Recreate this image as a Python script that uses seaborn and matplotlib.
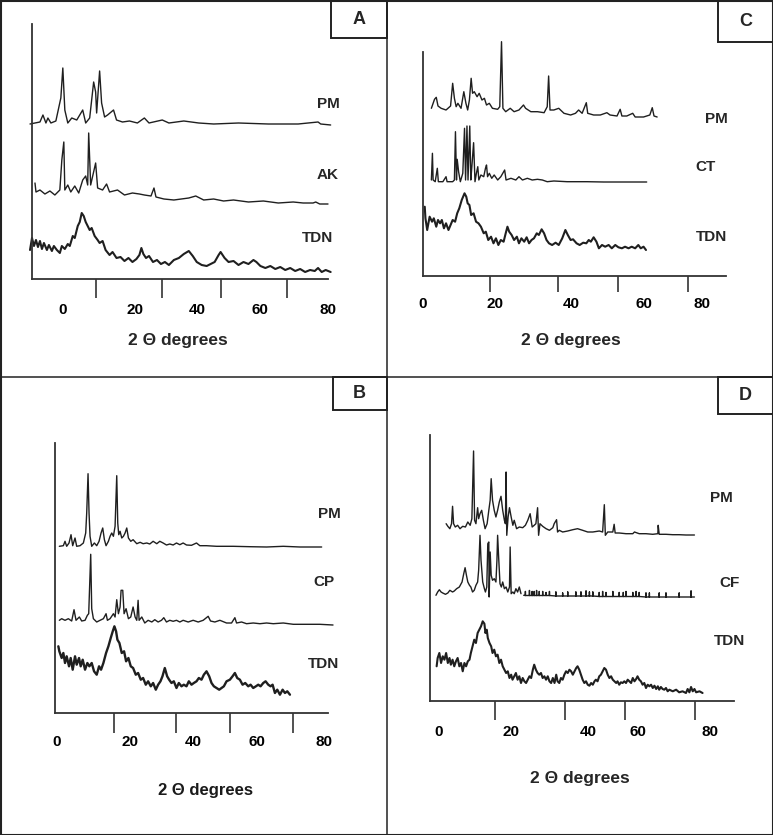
import matplotlib
matplotlib.use("Agg")
import matplotlib.pyplot as plt
from matplotlib.patches import Rectangle
from matplotlib.lines import Line2D
import pandas as pd
import seaborn as sns

sns.set_style("white")
plt.rcParams['font.family'] = ['Liberation Sans', 'DejaVu Sans']

# ------------------------------------------------------------------ data
tick_labels = ['0', '20', '40', '60', '80']
xlabel_text = '2 \u0398 degrees'

# ---- Panel A : PM / AK / TDN
a_names = ['PM', 'AK', 'TDN']
a_pm_x = [-9.9, -6.9, -6.0, -5.1, -4.5, -3.6, -2.1, -0.6, 0.0, 0.6, 1.5, 2.7, 4.2, 6.0, 6.9, 8.1, 9.3, 9.9, 10.2, 11.1,
          11.7, 12.6, 13.5, 15.3, 16.2, 18.0, 20.1, 22.5, 24.6, 26.0, 30.0, 32.0, 36.5, 41.0, 45.5, 53.0, 62.0, 71.0, 77.0, 77.8, 80.8]
a_pm_y = [0, 2, 9, 1, 6, 1, 3, 26, 56, 14, 1, 6, 4, 14, 1, 6, 42, 32, 11, 53,
          21, 7, 9, 14, 4, 2, 3, 1, 6, 1, 4, 1, 3, 1, 0, 1, 0, 0, 2, 0, -1]
a_ak_x = [-8.4, -8.1, -6.9, -5.4, -3.9, -2.4, -0.9, -0.3, 0.3, 0.6, 1.5, 2.4, 3.6, 4.8, 6.0, 6.9, 7.5, 7.8, 8.4, 9.9,
          10.5, 12.0, 13.2, 14.1, 16.5, 18.6, 21.0, 23.1, 24.6, 26.6, 27.5, 28.1, 30.5, 33.5, 38.0, 40.1, 42.5, 45.5, 48.5, 51.5,
          56.0, 60.5, 65.0, 69.5, 72.5, 75.5, 76.3, 77.5, 80.0]
a_ak_y = [10, 1, 3, -1, 2, -2, 3, 33, 51, 3, 8, 1, 7, 0, 13, 17, 8, 60, 8, 30,
          5, 3, 9, 1, 3, -2, 0, -1, -2, -3, 5, -4, -6, -7, -5, -3, -7, -6, -8, -7,
          -9, -8, -10, -9, -10, -10, -9, -11, -11]
a_tdn_x = [-9.9, -9.3, -8.7, -8.1, -7.5, -6.9, -6.3, -5.7, -4.8, -4.2,
           -3.3, -2.7, -1.8, -0.9, -0.3, 0.6, 1.5, 2.1, 3.0, 3.6,
           4.5, 5.1, 5.7, 6.3, 6.9, 7.5, 8.1, 8.7, 9.6, 10.5,
           11.1, 12.0, 12.9, 14.1, 15.0, 16.2, 17.4, 18.6, 19.8, 21.0,
           22.2, 23.1, 23.7, 24.3, 25.1, 26.0, 27.2, 28.4, 29.6, 30.8,
           32.0, 33.5, 35.0, 36.5, 38.0, 39.2, 40.4, 41.9, 43.4, 44.6,
           45.8, 47.0, 47.6, 48.8, 50.0, 51.5, 53.0, 54.5, 56.0, 57.5,
           58.4, 59.6, 61.1, 62.6, 64.1, 65.6, 67.1, 68.6, 70.1, 71.6,
           73.1, 74.6, 76.0, 77.0, 78.1, 79.3, 80.8]
a_tdn_y = [22, 34, 26, 32, 25, 31, 23, 29, 22, 27,
           21, 26, 22, 19, 26, 23, 28, 26, 36, 34,
           46, 50, 59, 56, 50, 46, 42, 44, 36, 32,
           29, 31, 22, 17, 20, 14, 15, 11, 14, 10,
           13, 17, 24, 18, 14, 16, 10, 12, 8, 10,
           7, 12, 14, 18, 21, 16, 10, 7, 6, 8,
           10, 17, 20, 14, 10, 11, 7, 10, 8, 12,
           10, 6, 4, 6, 3, 5, 2, 4, 1, 3,
           0, 2, 1, 4, 0, 2, 0]
a_offsets = [155, 86, 7]

# ---- Panel C : PM / CT / TDN
c_names = ['PM', 'CT', 'TDN']
c_pm_x = [2.4, 3.3, 3.8, 4.3, 5.2, 6.6, 7.9, 8.5, 9.0, 9.5,
          10.0, 10.9, 11.7, 12.3, 12.8, 13.3, 13.8, 14.2, 14.7, 15.5,
          16.1, 16.9, 17.6, 18.2, 19.0, 19.9, 21.4, 22.0, 22.5, 22.9,
          23.7, 25.0, 26.1, 27.5, 28.8, 29.4, 30.9, 32.8, 34.7, 35.6,
          36.0, 36.4, 37.5, 38.9, 40.4, 42.3, 43.7, 44.6, 45.6, 46.8,
          47.2, 48.9, 50.8, 52.7, 53.6, 55.6, 56.5, 57.0, 58.4, 60.1,
          60.8, 63.2, 65.0, 65.7, 66.2, 67.1]
c_pm_y = [8.7, 17.7, 19.7, 11, 8.7, 7, 11, 33.7, 18.7, 10.3,
          13.7, 8.7, 25.3, 13.7, 7, 17, 38.7, 23.7, 25.3, 20.3,
          23.7, 17, 18.7, 12, 13.7, 8.7, 7.7, 10.3, 75.3, 8.7,
          5.3, 8.7, 5.3, 7, 12, 8.7, 5.3, 5.3, 4.3, 10.3,
          41, 7, 7, 8.7, 3.7, 2, 3.7, 7, 3.7, 14.3,
          3.7, 2, 2, 4.3, 2, 1, 7.7, 1, 1, 3.7,
          0, 0, 2, 9.3, 1, 0]
c_ct_x = [2.4, 2.7, 2.9, 3.5, 4.1, 4.4, 5.7, 6.6, 6.9, 8.5,
          9.0, 9.3, 9.6, 9.8, 10.2, 10.7, 11.4, 11.9, 12.2, 12.6,
          12.9, 13.4, 13.7, 14.0, 14.5, 14.9, 15.3, 15.7, 16.0, 16.6,
          17.4, 17.9, 18.2, 18.5, 19.0, 19.7, 20.4, 21.4, 22.3, 23.4,
          23.8, 25.2, 26.6, 27.5, 28.5, 29.9, 31.3, 32.8, 34.2, 35.6,
          37.5, 41.3, 47.0, 51.8, 56.5, 64.1]
c_ct_y = [2, 28.7, 2, 0.3, 13.7, 0.3, 0.3, 5.3, 0.3, 0.3,
          2, 50.3, 2, 22.7, 10.3, 0.3, 8.7, 53.7, 2, 56,
          2, 56, 2, 15.3, 39.3, 0.3, 8.7, 15.3, 2, 7,
          5.3, 13.7, 17, 5.3, 8.7, 3.7, 7, 2, 5.3, 12,
          2, 3.7, 2, 5.3, 2, 3.7, 2, 2.7, 2, 0.3,
          1, 0.3, 0.3, 0, 0, 0]
c_tdn_x = [0.5, 0.7, 1.2, 1.9, 2.6, 3.1, 3.8, 4.3, 4.9, 5.4,
           6.0, 6.6, 7.3, 7.9, 8.5, 9.2, 9.8, 10.4, 11.1, 11.9,
           12.4, 12.8, 13.3, 13.8, 14.5, 15.2, 15.9, 16.6, 17.4, 18.0,
           18.7, 19.5, 20.2, 20.9, 21.6, 22.3, 23.1, 23.7, 24.2, 24.7,
           25.4, 26.1, 26.9, 27.5, 28.2, 29.0, 29.7, 30.4, 31.1, 31.8,
           32.6, 33.2, 34.0, 34.7, 35.4, 36.1, 37.0, 38.0, 38.9, 39.9,
           40.8, 41.5, 42.3, 43.0, 44.0, 44.9, 45.9, 46.8, 47.5, 48.1,
           48.9, 49.7, 50.4, 51.3, 52.2, 53.2, 54.1, 55.1, 56.0, 57.0,
           57.9, 58.9, 59.8, 60.8, 61.7, 62.4, 63.2, 63.9]
c_tdn_y = [43.3, 31.7, 20, 33.3, 28.3, 31.7, 23.3, 30, 26.7, 30,
           21.7, 26.7, 20, 25, 30, 28.3, 36.7, 41.7, 50, 56.7,
           53.3, 46.7, 45, 35, 36.7, 28.3, 26.7, 23.3, 16.7, 18.3,
           10, 13.3, 6.7, 11.7, 5, 10, 8.3, 16.7, 23.3, 18.3,
           15, 10, 13.3, 6.7, 11.7, 8.3, 12.7, 6.7, 10, 11.7,
           16.7, 15, 20.7, 16.7, 10, 6.7, 5, 7.3, 5, 11.7,
           20, 15, 10, 10.7, 6.7, 5, 7.3, 6.7, 10, 8.3,
           12.7, 8.3, 1.7, 5, 3.3, 5, 1.7, 5, 2.7, 1.7,
           3.3, 1.7, 3.3, 1.7, 5, 1.7, 3.3, 0]
c_offsets = [159, 94, 26]

# ---- Panel B : PM / CP / TDN
b_names = ['PM', 'CP', 'TDN']
b_pm_x = [0.7, 1.9, 2.4, 2.9, 3.6, 4.2, 4.7, 5.4, 5.9, 6.9,
          7.9, 8.6, 8.9, 9.3, 9.6, 9.9, 10.4, 11.2, 11.9, 12.6,
          13.2, 13.7, 14.2, 14.7, 15.4, 15.9, 16.4, 16.9, 17.4, 17.9,
          18.2, 18.5, 18.9, 19.4, 19.9, 20.4, 20.9, 21.4, 22.1, 22.8,
          23.9, 24.9, 25.8, 26.9, 27.8, 28.8, 29.9, 30.8, 31.8, 32.8,
          33.8, 34.8, 35.8, 36.8, 37.8, 38.8, 40.3, 41.8, 42.8, 44.8,
          47.8, 52.8, 57.8, 62.8, 67.8, 72.8, 77.8, 79.3]
b_pm_y = [0.7, 1.3, 5.7, 0.7, 4, 12.3, 1.3, 9, 0.7, 1.3,
          4, 14, 34, 73.3, 34, 10.7, 0.7, 4, 1.3, 5.7,
          14, 19, 7.3, 1.3, 5.7, 10.7, 14, 10.7, 20.7, 71.3,
          24, 12.3, 15.7, 9, 10.7, 14, 19, 9, 5.7, 7.3,
          3.3, 4.7, 3.3, 4, 3, 5.7, 3.3, 5.7, 4, 2,
          3, 2, 4, 2.3, 4, 2, 1.7, 4, 1.3, 1.3,
          0.7, 0.7, 0.3, 0, 0.7, 0, 0, 0]
b_cp_x = [0.7, 1.4, 2.4, 3.4, 4.4, 5.1, 5.7, 6.7, 7.4, 8.4,
          9.1, 9.5, 10.1, 10.4, 10.9, 11.9, 12.9, 13.9, 14.7, 15.1,
          15.9, 16.9, 17.4, 17.9, 18.4, 18.9, 19.2, 19.7, 20.1, 20.7,
          21.4, 22.1, 22.8, 23.4, 23.9, 24.3, 24.6, 25.4, 26.3, 27.3,
          28.4, 29.3, 30.3, 31.3, 32.0, 32.8, 33.8, 34.8, 35.8, 36.8,
          37.8, 39.3, 40.8, 42.3, 43.8, 45.3, 46.0, 47.3, 48.8, 50.8,
          52.3, 53.3, 53.8, 55.3, 56.8, 58.8, 60.8, 62.8, 64.8, 67.8,
          70.8, 74.8, 78.7, 82.7]
b_cp_y = [1.7, 3.3, 1.7, 3.3, 1, 12.3, 1.7, 5, 1, 1.7,
          6.7, 8.3, 67.7, 13.3, 3.3, 0, 1.7, 3.3, 8.3, 1.7,
          3.3, 8.3, 5, 22.3, 8.3, 15, 31.7, 31.7, 8.3, 13.3,
          3.3, 5, 15, 5, 1.7, 21.7, 1.7, 5, -1, 1.7,
          0, 2.3, 0, 1.7, 4.3, 0, 1.7, 0.7, 1.7, 0,
          1.7, 0, 1.7, 0, 1.7, 5.7, 1, 0, 1.7, -1,
          -1, 4.3, -1, 0, -1.7, -1, -1.7, -1, -1.7, -1,
          -2.3, -2.3, -2.3, -3]
b_tdn_x = [0.4, 0.7, 1.4, 1.9, 2.4, 2.9, 3.6, 4.1, 4.7, 5.4,
           5.9, 6.6, 7.1, 7.7, 8.4, 9.1, 9.7, 10.4, 11.1, 11.9,
           12.6, 13.2, 13.9, 14.7, 15.4, 16.1, 16.7, 17.2, 17.7, 18.1,
           18.7, 19.4, 20.1, 20.7, 21.4, 22.1, 22.8, 23.6, 24.3, 25.1,
           25.8, 26.6, 27.3, 28.1, 28.8, 29.6, 30.3, 31.0, 31.6, 32.3,
           33.0, 33.6, 34.3, 35.0, 35.8, 36.5, 37.3, 38.0, 38.8, 39.5,
           40.3, 41.0, 41.8, 42.5, 43.3, 44.0, 44.8, 45.6, 46.3, 47.0,
           47.8, 48.6, 49.3, 50.0, 50.8, 51.8, 52.6, 53.3, 54.0, 54.8,
           55.6, 56.4, 57.3, 58.0, 58.8, 59.6, 60.3, 61.0, 61.8, 62.5,
           63.3, 64.0, 64.6, 65.3, 66.0, 66.8, 67.6, 68.3, 69.0, 69.8]
b_tdn_y = [46.7, 41.7, 35, 40, 30, 36.7, 26.7, 35, 23.3, 36.7,
           28.3, 35, 26.7, 33.3, 23.3, 30, 26.7, 30, 21.7, 18.3,
           26.7, 23.3, 30, 40, 46.7, 55, 61.7, 66.7, 61.7, 53.3,
           50, 40, 41.7, 31.7, 35, 26.7, 25, 18.3, 20, 13.3,
           15, 8.3, 11.7, 6.7, 10, 3.3, 8.3, 11.7, 16.7, 25,
           16.7, 13.3, 10, 11.7, 5, 10, 6.7, 8.3, 6.7, 11.7,
           8.3, 10, 11.7, 15, 13.3, 18.3, 21.7, 16.7, 10, 6.7,
           5, 3.3, 5, 6.7, 11.7, 13.3, 16.7, 20, 15, 13.3,
           8.3, 10, 6.7, 8.3, 5, 6.7, 8.3, 6.7, 10, 11.7,
           8.3, 6.7, 8.3, 0, 3.3, -1.7, 3.3, 0, 1.7, -1.7]
b_offsets = [166, 91, 20]

# ---- Panel D : PM / CF / TDN
d_names = ['PM', 'CF', 'TDN']
d_pm_x = [2.1, 2.6, 3.2, 3.7, 4.0, 4.3, 4.8, 5.5, 6.2, 7.0,
          7.8, 8.5, 9.2, 9.7, 10.2, 10.5, 10.9, 11.4, 11.7, 12.1,
          12.6, 13.1, 13.6, 14.2, 14.7, 15.1, 15.4, 15.8, 16.3, 16.8,
          17.3, 17.8, 18.3, 18.8, 19.3, 19.6, 19.8, 20.0, 20.4, 20.8,
          21.3, 21.8, 22.2, 22.9, 23.7, 24.7, 25.5, 26.2, 26.9, 27.5,
          28.1, 28.6, 29.1, 29.4, 29.8, 30.6, 31.6, 32.6, 33.6, 34.0,
          34.7, 35.0, 35.5, 36.5, 38.0, 39.5, 40.9, 42.4, 43.9, 45.4,
          47.3, 48.3, 48.8, 49.1, 49.8, 51.3, 51.7, 52.0, 53.2, 55.2,
          57.2, 57.7, 59.1, 61.1, 63.1, 64.6, 64.7, 65.0, 67.0, 69.0, 70.9, 72.9, 75.4]
d_pm_y = [11.3, 8.7, 6.3, 11.3, 28.7, 11.3, 8, 9.7, 6.3, 8.7,
          8, 13, 9.7, 16.3, 84, 14.7, 11.3, 27.3, 16.3, 21.3,
          24.7, 14.7, 6.3, 11.3, 24.7, 34.7, 56.3, 34.7, 24.7, 18,
          24.7, 33, 38.7, 24.7, 14.7, 11.3, 63, -0.3, 18, 27.3,
          18, 9.7, 14.7, 6.3, 8, 7.3, 9.7, 14.7, 21.3, 8,
          9.7, 11.3, 27.3, -0.3, 11.3, 8.7, 6.3, 4.7, 7.3, 11.3,
          15.3, 3, 4.7, 3, 4, 5.3, 6.3, 4.7, 3, 3,
          4, 3, 30.3, -0.3, 3, 3, 10.7, 2, 2, 1.3,
          1.3, 3, 1.3, 1.3, 0.7, 1.3, 9.7, 0.7, 0.7, 0.3, 0.3, 0, 0]
d_cf_x = [-0.9, -0.4, 0.1, 0.6, 1.1, 1.9, 2.6, 3.2, 4.0, 4.5,
          5.2, 6.0, 6.8, 7.3, 7.7, 8.1, 8.5, 9.0, 9.4, 9.9,
          10.4, 10.9, 11.4, 11.7, 12.1, 12.4, 12.9, 13.4, 13.7, 14.1,
          14.4, 14.7, 14.8, 15.1, 15.4, 15.8, 16.3, 16.8, 17.1, 17.3,
          17.6, 18.0, 18.4, 18.8, 19.3, 19.8, 20.3, 20.8, 21.0, 21.3,
          21.8, 22.2, 22.7, 23.2, 23.7, 24.2]
d_cf_y = [1.7, 5, 7.3, 5, 4, 2.7, 4, 6.7, 5, 6,
          8.3, 10, 15, 23.3, 29.3, 21.7, 15, 11.7, 10, 5,
          6.7, 11.7, 15, 26.7, 61.7, 36.7, 15, 8.3, 5, 10,
          53.3, 55, 0, 45, 21.7, 16.7, 18.3, 15, 36.7, 61.7,
          40, 13.3, 10, 15, 8.3, 10, 5, 10, 50, 3.3,
          5, 3.3, 8.3, 5, 10, 3.3]
# CF tail: a flat trace with many small reflections
d_cf_tail_ends_x = [25.0, 75.4]
d_cf_tail_ends_y = [1.7, 0.0]
d_cf_tick_x = [25.5, 26.7, 27.5, 28.1, 28.8, 29.6, 30.6, 31.6, 32.6, 34.5,
               36.5, 38.0, 40.4, 41.9, 43.4, 44.4, 45.4, 47.3, 48.3, 49.3,
               51.3, 53.2, 54.4, 55.2, 57.2, 58.2, 59.1, 61.1, 62.1, 65.0,
               67.0, 70.9, 74.4]
d_cf_tick_base = [1.5, 1.5, 1.5, 1.5, 1.5, 1.5, 1.5, 1.5, 1.5, 1.0,
                  1.0, 1.0, 1.0, 1.0, 1.0, 1.0, 1.0, 0.5, 0.5, 0.5,
                  0.5, 0.5, 0.5, 0.5, 0.5, 0.5, 0.5, 0.0, 0.0, 0.0,
                  0.0, 0.0, 0.0]
d_cf_tick_h = [4, 5, 4, 4, 5, 4, 4, 3, 4, 4,
               3, 4, 4, 4, 5, 4, 4, 4, 5, 4,
               5, 4, 4, 5, 4, 5, 4, 4, 4, 4,
               4, 4, 6]
d_tdn_x = [-0.7, -0.4, 0.1, 0.6, 1.1, 1.6, 2.1, 2.6, 3.1, 3.5,
           4.0, 4.5, 5.0, 5.5, 6.0, 6.5, 7.0, 7.5, 8.0, 8.5,
           9.0, 9.4, 9.9, 10.4, 10.9, 11.4, 11.9, 12.4, 12.9, 13.4,
           13.7, 14.1, 14.4, 14.9, 15.4, 15.8, 16.3, 16.8, 17.3, 17.8,
           18.3, 18.8, 19.3, 19.8, 20.3, 20.8, 21.3, 21.7, 22.2, 22.7,
           23.2, 23.7, 24.2, 24.7, 25.2, 25.7, 26.2, 26.7, 27.2, 27.7,
           28.1, 28.6, 29.1, 29.6, 30.1, 30.6, 31.1, 31.6, 32.1, 32.6,
           33.1, 33.6, 34.1, 34.6, 35.0, 35.5, 36.0, 36.5, 37.0, 37.5,
           38.0, 38.5, 39.0, 39.5, 40.0, 40.5, 40.9, 41.4, 41.9, 42.4,
           42.9, 43.4, 43.9, 44.4, 44.9, 45.4, 45.9, 46.3, 46.8, 47.3,
           47.8, 48.3, 48.8, 49.3, 49.8, 50.3, 50.8, 51.3, 51.8, 52.3,
           52.7, 53.2, 53.7, 54.2, 54.7, 55.2, 55.7, 56.2, 56.7, 57.2,
           57.7, 58.2, 58.6, 59.1, 59.6, 60.1, 60.6, 61.1, 61.6, 62.1,
           62.6, 63.1, 63.6, 64.1, 64.6, 65.0, 65.5, 66.0, 66.5, 67.0,
           67.5, 68.0, 69.0, 70.0, 70.9, 71.9, 72.9, 73.4, 73.9, 74.4,
           74.9, 75.4, 75.9, 76.9, 77.8]
d_tdn_y = [26.7, 35, 40, 30, 36.7, 33.3, 40, 30, 35, 28.3,
           33.3, 26.7, 31.7, 35, 26.7, 30, 21.7, 30, 26.7, 31.7,
           33.3, 40, 46.7, 53.3, 50, 60, 63.3, 66.7, 71.7, 69.3,
           60, 63.3, 55, 50, 46.7, 40, 43.3, 36.7, 38.3, 30,
           33.3, 26.7, 23.3, 20, 21.7, 15, 18.3, 13.3, 16.7, 20,
           13.3, 16.7, 10, 15, 11.7, 10, 13.3, 16.7, 15, 23.3,
           28.3, 23.3, 20, 18.3, 20, 15, 16.7, 13.3, 16.7, 11.7,
           10, 15, 10, 18.3, 11.7, 10, 15, 13.3, 18.3, 21.7,
           20, 23.3, 21.7, 18.3, 21.7, 25, 26.7, 23.3, 18.3, 13.3,
           10, 11.7, 8.3, 7.3, 10, 8.3, 11.7, 13.3, 11.7, 16.7,
           18.3, 21.7, 25, 23.3, 18.3, 15, 16.7, 13.3, 11.7, 10,
           11.7, 8.3, 10.7, 10, 11.7, 10, 13.3, 11.7, 10, 15,
           11.7, 14, 16.7, 13.3, 11.7, 8.3, 10, 5, 8.3, 6.7,
           8.3, 5, 7.3, 4, 6.7, 3.3, 6, 4, 3.3, 5,
           1.7, 3.3, 1.7, 3.3, 0.7, 1.7, 0, 4, 0.7, 6,
           1.7, 4, 0.7, 1.7, 0]
d_offsets = [166, 104, 8]

# ------------------------------------------------------------------ layout
W, H = 773, 835
INK = "#1f1f1f"
AXC = "#333333"

fig = plt.figure(figsize=(W / 100, H / 100), dpi=100)
fig.patch.set_facecolor('white')


def fx(px):
    return px / W


def fy(py):
    return 1 - py / H


def line_df(x, y, off):
    return pd.DataFrame({'two_theta': x, 'intensity': [v + off for v in y]})


def draw(ax, x, y, off, lw):
    sns.lineplot(data=line_df(x, y, off), x='two_theta', y='intensity', ax=ax,
                 sort=False, estimator=None, color=INK, lw=lw, legend=False)


def make_axes(left, right, top, bottom, xlim, ylim, marks, mark_len, label_pos, pad):
    ax = fig.add_axes([fx(left), fy(bottom), (right - left) / W, (bottom - top) / H])
    ax.set_xlim(*xlim)
    ax.set_ylim(*ylim)
    ax.patch.set_alpha(0)
    for s in ['top', 'right']:
        ax.spines[s].set_visible(False)
    for s in ['left', 'bottom']:
        ax.spines[s].set_color(AXC)
        ax.spines[s].set_linewidth(1.3)
    ax.set_yticks([])
    ax.set_xticks(label_pos)
    ax.set_xticklabels(tick_labels, fontsize=11, fontweight='bold', color='black')
    ax.tick_params(axis='x', which='major', bottom=True, length=0, pad=pad)
    ax.set_xticks(marks, minor=True)
    ax.tick_params(axis='x', which='minor', bottom=True, length=mark_len, width=1.2,
                   color=AXC, direction='out')
    return ax


def finish(ax):
    ax.set_xlabel('')
    ax.set_ylabel('')
    for ln in ax.get_lines():
        ln.set_clip_on(False)


def name_labels(names, xys):
    for n, (px, py) in zip(names, xys):
        fig.text(fx(px), fy(py), n, ha='center', va='center', fontsize=11, fontweight='bold')


def letter_box(letter, x0, y0, x1, y1):
    fig.add_artist(Rectangle((fx(x0), fy(y1)), (x1 - x0) / W, (y1 - y0) / H,
                             transform=fig.transFigure, fill=False, ec='#222222', lw=1.4))
    fig.text(fx((x0 + x1) / 2), fy((y0 + y1) / 2), letter, ha='center', va='center',
             fontsize=13, fontweight='bold')


# Panel A
axA = make_axes(32, 328, 24, 279, (-9.3, 79.4), (0, 255), [9.9, 30.0, 47.6, 67.7], 13.5,
                [0, 21.9, 40.7, 59.6, 80], 17)
draw(axA, a_pm_x, a_pm_y, a_offsets[0], 1.0)
draw(axA, a_ak_x, a_ak_y, a_offsets[1], 1.0)
draw(axA, a_tdn_x, a_tdn_y, a_offsets[2], 1.5)
finish(axA)
name_labels(a_names, [(328, 104), (328, 175), (318, 238)])
fig.text(fx(178), fy(341), xlabel_text, ha='center', va='center', fontsize=12.5, fontweight='bold')
letter_box('A', 331, 0, 386.5, 38)

# Panel C
axC = make_axes(423, 726, 52, 276, (0.57, 86.83), (0, 224), [19.1, 38.7, 55.8, 75.8], 11.5,
                [0, 20.5, 42.4, 63.2, 80], 15)
draw(axC, c_pm_x, c_pm_y, c_offsets[0], 1.0)
draw(axC, c_ct_x, c_ct_y, c_offsets[1], 1.0)
draw(axC, c_tdn_x, c_tdn_y, c_offsets[2], 1.5)
finish(axC)
name_labels(c_names, [(716, 119), (705, 167), (711, 237)])
fig.text(fx(571), fy(341), xlabel_text, ha='center', va='center', fontsize=12.5, fontweight='bold')
letter_box('C', 718, 0, 773, 42)

# Panel B
axB = make_axes(55, 328, 443, 713, (-0.6, 81.2), (0, 270), [17.1, 35.6, 51.8, 70.7], 14.4,
                [0, 21.9, 40.7, 59.9, 80], 15.5)
draw(axB, b_pm_x, b_pm_y, b_offsets[0], 1.0)
draw(axB, b_cp_x, b_cp_y, b_offsets[1], 1.0)
draw(axB, b_tdn_x, b_tdn_y, b_offsets[2], 1.7)
finish(axB)
name_labels(b_names, [(329, 514), (324, 582), (324, 664)])
fig.text(fx(206), fy(790), xlabel_text, ha='center', va='center', fontsize=12, fontweight='bold',
         color='#1a1a1a')
letter_box('B', 333, 377, 386.5, 410)

# Panel D
axD = make_axes(430, 734, 435, 701, (-2.66, 87.08), (0, 266), [16.5, 37.2, 54.9, 75.6], 13.7,
                [0, 21.3, 44.0, 58.7, 80], 17)
draw(axD, d_pm_x, d_pm_y, d_offsets[0], 1.0)
draw(axD, d_cf_x, d_cf_y, d_offsets[1], 1.0)
tail_x = [d_cf_tail_ends_x[0]]
tail_y = [d_cf_tail_ends_y[0]]
for tx, tb, th in zip(d_cf_tick_x, d_cf_tick_base, d_cf_tick_h):
    tail_x += [tx, tx, tx]
    tail_y += [tb, tb + th, tb]
tail_x.append(d_cf_tail_ends_x[1])
tail_y.append(d_cf_tail_ends_y[1])
draw(axD, tail_x, tail_y, d_offsets[1], 1.0)
draw(axD, d_tdn_x, d_tdn_y, d_offsets[2], 1.5)
finish(axD)
name_labels(d_names, [(721, 498), (729, 583), (729, 641)])
fig.text(fx(580), fy(779), xlabel_text, ha='center', va='center', fontsize=12.5, fontweight='bold')
letter_box('D', 718, 377, 773, 414)

# panel frame lines
fig.add_artist(Line2D([fx(386.5), fx(386.5)], [0, 1], transform=fig.transFigure, color='#222222', lw=1.1))
fig.add_artist(Line2D([0, 1], [fy(377), fy(377)], transform=fig.transFigure, color='#222222', lw=1.1))
fig.add_artist(Rectangle((0.5 / W, 0.5 / H), (W - 1) / W, (H - 1) / H, transform=fig.transFigure,
                         fill=False, ec='#222222', lw=1.5))

fig.savefig('out.png', dpi=100)
